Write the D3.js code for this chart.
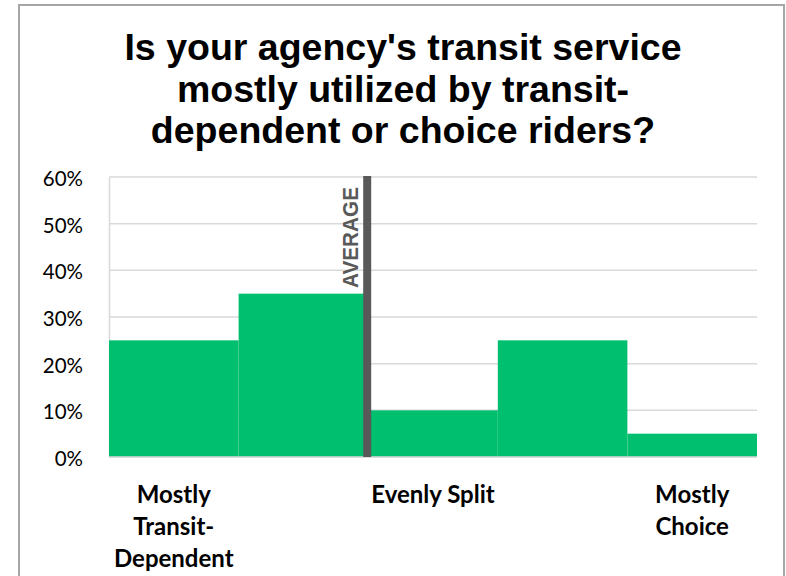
<!DOCTYPE html>
<html>
<head>
<meta charset="utf-8">
<script src="https://cdn.jsdelivr.net/npm/d3@7"></script>
<style>
  html, body { margin: 0; padding: 0; background: #ffffff; }
  svg { display: block; }
</style>
</head>
<body>
<div id="chart"></div>
<script>
// ---- data ----
const titleLines = ["Is your agency's transit service", "mostly utilized by transit-", "dependent or choice riders?"];
const categories = ["Mostly Transit-Dependent", "Between 1", "Evenly Split", "Between 2", "Mostly Choice"];
const values = [25, 35, 10, 25, 5];           // percent
const categoryLabelLines = [["Mostly", "Transit-", "Dependent"], [], ["Evenly Split"], [], ["Mostly", "Choice"]];
const yTicks = [0, 10, 20, 30, 40, 50, 60];
const averagePosition = 2;                       // boundary index between bins
const averageLabel = "AVERAGE";

// ---- layout ----
const W = 786, H = 576;
const plot = { left: 109, right: 757, top: 177, bottom: 457 };

const svg = d3.select("#chart").append("svg").attr("width", W).attr("height", H);
svg.append("rect").attr("width", W).attr("height", H).attr("fill", "#fff");

// frame
svg.append("rect")
  .attr("x", 19).attr("y", 5).attr("width", 765).attr("height", 600)
  .attr("fill", "#fff").attr("stroke", "#a6a6a6").attr("stroke-width", 2);

// title
const title = svg.append("text")
  .attr("text-anchor", "middle")
  .attr("font-family", "'Liberation Sans', Arial, sans-serif")
  .attr("font-weight", "bold").attr("font-size", 37.5).attr("fill", "#000");
titleLines.forEach((t, i) => {
  title.append("tspan").attr("x", 403).attr("y", 60 + i * 41.5).text(t);
});

// scales
const x = d3.scaleBand().domain(d3.range(categories.length)).range([plot.left, plot.right]).padding(0);
const y = d3.scaleLinear().domain([0, 60]).range([plot.bottom, plot.top]);

// gridlines
svg.append("g").selectAll("line").data(yTicks).join("line")
  .attr("x1", plot.left).attr("x2", plot.right)
  .attr("y1", d => y(d)).attr("y2", d => y(d))
  .attr("stroke", "#d9d9d9").attr("stroke-width", 1.5);

// y axis
const yAxis = svg.append("g").attr("transform", `translate(${plot.left},0)`)
  .call(d3.axisLeft(y).tickValues(yTicks).tickFormat(d => d + "%").tickSize(0).tickPadding(26));
yAxis.select(".domain").attr("stroke", "#d9d9d9").attr("stroke-width", 1.5);
yAxis.selectAll("text")
  .attr("font-family", "Lato, 'Open Sans', sans-serif")
  .attr("font-size", 20.5).attr("fill", "#000").attr("dy", "0.42em");

// bars
svg.append("g").selectAll("rect").data(values).join("rect")
  .attr("x", (d, i) => x(i))
  .attr("y", d => y(d))
  .attr("width", x.bandwidth())
  .attr("height", d => y(0) - y(d))
  .attr("fill", "#00bf6f");

// bottom axis line
svg.append("line")
  .attr("x1", plot.left).attr("x2", plot.right)
  .attr("y1", y(0)).attr("y2", y(0))
  .attr("stroke", "#d9d9d9").attr("stroke-width", 1.5);

// average line
const ax = plot.left + averagePosition * x.step() - 1;
svg.append("line")
  .attr("x1", ax).attr("x2", ax)
  .attr("y1", y(60) - 1).attr("y2", y(0))
  .attr("stroke", "#595959").attr("stroke-width", 8);

svg.append("text")
  .attr("transform", `translate(${ax - 9},288) rotate(-90)`)
  .attr("text-anchor", "start")
  .attr("font-family", "'Liberation Sans', Arial, sans-serif")
  .attr("font-weight", "bold").attr("font-size", 22)
  .attr("textLength", 101).attr("lengthAdjust", "spacingAndGlyphs")
  .attr("fill", "#595959")
  .text(averageLabel);

// x labels
const xl = svg.append("g");
categoryLabelLines.forEach((lines, i) => {
  const t = xl.append("text")
    .attr("text-anchor", "middle")
    .attr("font-family", "Lato, 'Open Sans', sans-serif")
    .attr("font-weight", "bold").attr("font-size", 24).attr("fill", "#000");
  lines.forEach((ln, j) => {
    t.append("tspan").attr("x", x(i) + x.bandwidth() / 2).attr("y", 503 + j * 32).text(ln);
  });
});
</script>
</body>
</html>
